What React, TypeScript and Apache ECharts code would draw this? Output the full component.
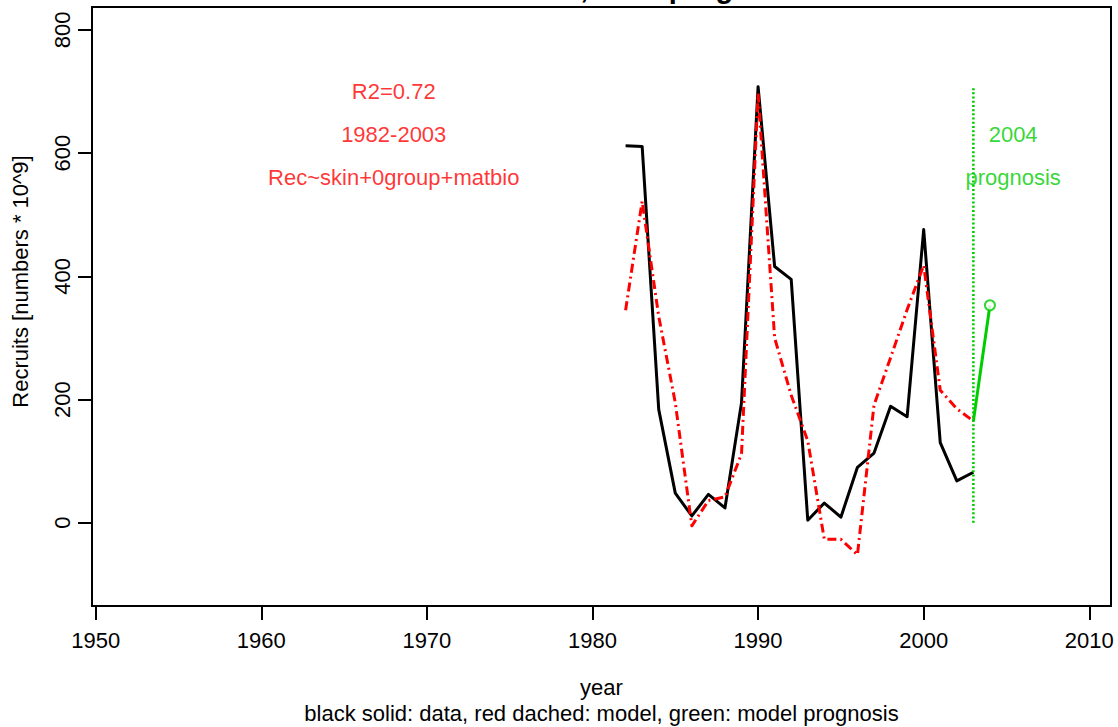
import React, { useEffect, useRef } from "react";
import * as echarts from "echarts";

const years = [1982, 1983, 1984, 1985, 1986, 1987, 1988, 1989, 1990, 1991, 1992, 1993, 1994, 1995, 1996, 1997, 1998, 1999, 2000, 2001, 2002, 2003];
const observed = [612, 611, 184, 48, 11, 46, 24, 195, 708, 416, 395, 4, 32, 9, 90, 113, 189, 172, 476, 130, 68, 82];
const model = [345, 522, 335, 195, -5, 36, 42, 112, 697, 300, 207, 133, -27, -27, -52, 191, 268, 346, 418, 215, 185, 165];
const prognosisYears = [2003, 2004];
const prognosisValues = [165, 353];
const cutoffYears = [2003, 2003];
const cutoffValues = [0, 708];
const xTicks = [1950, 1960, 1970, 1980, 1990, 2000, 2010];
const yTicks = [0, 200, 400, 600, 800];
const modelNotes = ["R2=0.72", "1982-2003", "Rec~skin+0group+matbio"];
const modelNoteX = 1968;
const modelNoteY = [700, 630, 560];
const progNotes = ["2004", "prognosis"];
const progNoteX = 2005.4;
const progNoteY = [630, 560];

const FONT = "'Liberation Sans', Arial, Helvetica, sans-serif";
const GREEN = "#00CD00";
const RED = "#FF0000";
const FS = 22;

export default function App() {
  const ref = useRef<HTMLDivElement>(null);
  useEffect(() => {
    if (!ref.current) return;
    const chart = echarts.init(ref.current, null, { renderer: "svg" });
    const pair = (xs: number[], ys: number[]) => xs.map((x, i) => [x, ys[i]]);
    const axisText = { fontSize: FS, color: "#000", fontFamily: FONT };
    chart.setOption({
      animation: false,
      backgroundColor: "#fff",
      grid: { left: 92, top: 7, width: 1019, height: 599, show: true, borderColor: "#000", borderWidth: 2, backgroundColor: "transparent" },
      xAxis: {
        type: "value",
        min: 1949.78,
        max: 2011.31,
        axisLine: { show: false, onZero: false },
        splitLine: { show: false },
        axisTick: { show: true, length: 14, customValues: xTicks, lineStyle: { color: "#000", width: 2 } },
        axisLabel: { customValues: xTicks, margin: 23, formatter: (v: number) => String(v), ...axisText },
        name: "year",
        nameLocation: "middle",
        nameGap: 70,
        nameTextStyle: axisText,
      },
      yAxis: {
        type: "value",
        min: -135.2,
        max: 837.3,
        axisLine: { show: false, onZero: false },
        splitLine: { show: false },
        axisTick: { show: true, length: 14, customValues: yTicks, lineStyle: { color: "#000", width: 2 } },
        axisLabel: { customValues: yTicks, margin: 19, rotate: 90, formatter: (v: number) => String(v), ...axisText },
        name: "Recruits [numbers * 10^9]",
        nameLocation: "middle",
        nameRotate: 90,
        nameGap: 61,
        nameTextStyle: { ...axisText, padding: [0, 0, 0, 50] },
      },
      graphic: [
        {
          type: "text",
          x: 610,
          y: -12.5,
          style: { text: "Recruitment, 2004 prognosis", fontSize: 29, fontWeight: "bold", fontFamily: FONT, fill: "#000", align: "center", verticalAlign: "middle" },
        },
        {
          type: "text",
          x: 601.5,
          y: 713,
          style: { text: "black solid: data, red dached: model, green: model prognosis", fontSize: FS, fontFamily: FONT, fill: "#000", align: "center", verticalAlign: "middle" },
        },
      ],
      series: [
        {
          type: "line",
          data: pair(years, observed),
          symbol: "none",
          lineStyle: { color: "#000", width: 3, join: "round" },
          z: 2,
        },
        {
          type: "line",
          data: pair(years, model),
          symbol: "none",
          lineStyle: { color: RED, width: 3, type: [9, 4, 2, 4], join: "round" },
          z: 3,
        },
        {
          type: "line",
          data: pair(cutoffYears, cutoffValues),
          symbol: "none",
          lineStyle: { color: GREEN, width: 2.6, type: [2, 2.2] },
          z: 4,
        },
        {
          type: "line",
          data: pair(prognosisYears, prognosisValues),
          symbol: "none",
          lineStyle: { color: GREEN, width: 3 },
          z: 4,
        },
        {
          type: "scatter",
          data: [[prognosisYears[1], prognosisValues[1]]],
          symbol: "emptyCircle",
          symbolSize: 10,
          itemStyle: { color: GREEN, borderWidth: 1.5 },
          z: 5,
        },
        {
          type: "scatter",
          silent: true,
          symbolSize: 0,
          data: modelNoteY.map((v, i) => ({ value: [modelNoteX, v], label: { formatter: modelNotes[i] } })),
          label: { show: true, position: "inside", color: RED, fontSize: FS, fontFamily: FONT },
          z: 6,
        },
        {
          type: "scatter",
          silent: true,
          symbolSize: 0,
          data: progNoteY.map((v, i) => ({ value: [progNoteX, v], label: { formatter: progNotes[i] } })),
          label: { show: true, position: "inside", color: GREEN, fontSize: FS, fontFamily: FONT },
          z: 6,
        },
      ],
    });
    return () => chart.dispose();
  }, []);
  return <div ref={ref} style={{ position: "fixed", left: 0, top: 0, width: 1118, height: 727, background: "#fff" }} />;
}
